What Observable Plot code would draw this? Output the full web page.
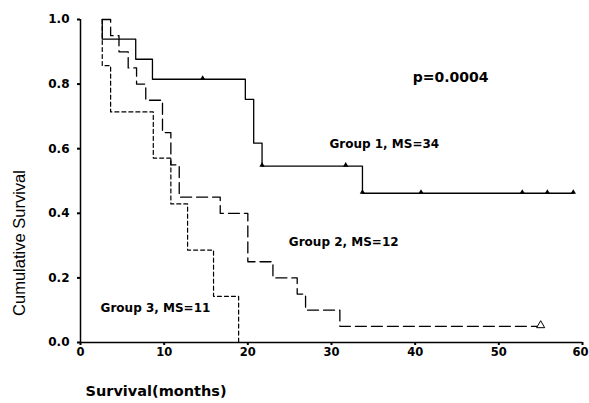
<!DOCTYPE html>
<html><head><meta charset="utf-8">
<script src="https://cdn.jsdelivr.net/npm/d3@7"></script>
<script src="https://cdn.jsdelivr.net/npm/@observablehq/plot@0.6"></script>
<style>body{margin:0;background:#fff;}</style>
</head><body><div id="chart"></div>
<script>
// Group 1 (solid)
const g1Time = [2.6, 2.6, 6.6, 8.6, 19.7, 20.7, 21.7, 33.7, 58.9];
const g1Surv = [1.0, 0.939, 0.877, 0.815, 0.753, 0.617, 0.546, 0.462, 0.462];
const g1CensorTime = [14.6, 21.7, 31.7, 33.7, 40.7, 52.8, 55.8, 58.9];
const g1CensorSurv = [0.815, 0.546, 0.546, 0.462, 0.462, 0.462, 0.462, 0.462];
// Group 2 (long dash)
const g2Time = [2.6, 3.6, 4.6, 5.7, 6.7, 7.8, 9.8, 10.8, 11.8, 16.7, 20.0, 23.0, 25.9, 26.9, 31.0, 55.0];
const g2Surv = [1.0, 0.95, 0.90, 0.85, 0.80, 0.75, 0.65, 0.55, 0.45, 0.40, 0.25, 0.20, 0.15, 0.10, 0.05, 0.05];
const g2CensorTime = [55.0];
const g2CensorSurv = [0.05];
// Group 3 (short dash)
const g3Time = [2.6, 2.6, 3.6, 8.7, 10.8, 12.8, 15.9, 18.9];
const g3Surv = [1.0, 0.857, 0.714, 0.571, 0.429, 0.286, 0.143, 0.0];
// Text
const groupLabels = ["Group 1, MS=34", "Group 2, MS=12", "Group 3, MS=11"];
const pLabel = "p=0.0004";
const xTicks = [0, 10, 20, 30, 40, 50, 60];
const yTicks = [0, 0.2, 0.4, 0.6, 0.8, 1.0];
const xTitle = "Survival(months)";
const yTitle = "Cumulative Survival";

const zip = (ts, ss) => ts.map((t, i) => ({t, s: ss[i]}));
const g1 = zip(g1Time, g1Surv), g1c = zip(g1CensorTime, g1CensorSurv);
const g2 = zip(g2Time, g2Surv), g2c = zip(g2CensorTime, g2CensorSurv);
const g3 = zip(g3Time, g3Surv);

const plot = Plot.plot({
  width: 589, height: 403,
  marginLeft: 80, marginRight: 7, marginTop: 19, marginBottom: 61,
  style: "font-family: 'DejaVu Sans', sans-serif; font-size: 12px; font-weight: bold; color: #000; background: #fff; overflow: visible;",
  x: {domain: [0, 60]},
  y: {domain: [0, 1]},
  marks: [
    Plot.axisX({ticks: xTicks, tickSize: 3, tickPadding: 2, tickFormat: d => String(d), label: null, strokeWidth: 2, fontSize: 11.5, textStroke: "none"}),
    Plot.axisY({ticks: yTicks, tickSize: 3, tickPadding: 8, tickFormat: d => d.toFixed(1), label: null, strokeWidth: 2, fontSize: 12}),
    Plot.ruleX([0], {strokeWidth: 1.5}),
    Plot.ruleY([0], {strokeWidth: 1.5}),
    Plot.line(g1, {x: "t", y: "s", curve: "step-after", strokeWidth: 1.3}),
    Plot.line(g2, {x: "t", y: "s", curve: "step-after", strokeWidth: 1.3, strokeDasharray: "11,5"}),
    Plot.line(g3, {x: "t", y: "s", curve: "step-after", strokeWidth: 1.2, strokeDasharray: "4,3"}),
    Plot.dot(g1c, {x: "t", y: "s", symbol: "triangle", r: 2, fill: "black", stroke: "none", dy: -1}),
    Plot.dot(g2c, {x: "t", y: "s", symbol: "triangle", r: 3, fill: "white", stroke: "black", strokeWidth: 1, dy: -1}),
    Plot.text([groupLabels[0]], {x: 29.75, y: 0.614, text: d => d, textAnchor: "start", lineAnchor: "middle", fontSize: 12}),
    Plot.text([groupLabels[1]], {x: 24.9, y: 0.31, text: d => d, textAnchor: "start", lineAnchor: "middle", fontSize: 12}),
    Plot.text([groupLabels[2]], {x: 2.4, y: 0.106, text: d => d, textAnchor: "start", lineAnchor: "middle", fontSize: 12}),
    Plot.text([pLabel], {x: 39.7, y: 0.82, text: d => d, textAnchor: "start", lineAnchor: "middle", fontSize: 14}),
    Plot.text([xTitle], {frameAnchor: "bottom-left", dx: 5, dy: 49, text: d => d, textAnchor: "start", lineAnchor: "middle", fontSize: 14.5}),
    Plot.text([yTitle], {frameAnchor: "top-left", dx: -61, dy: 223.5, rotate: -90, text: d => d, textAnchor: "middle", lineAnchor: "middle", fontSize: 16.5, fontWeight: "normal", fontFamily: "'Liberation Sans', Arial, sans-serif"})
  ]
});
// keep the last tick label inside the page
const xLabels = plot.querySelectorAll("g[aria-label='x-axis tick label'] text");
if (xLabels.length) xLabels[xLabels.length - 1].setAttribute("dx", "-2");
document.getElementById("chart").appendChild(plot);
</script>
</body></html>
